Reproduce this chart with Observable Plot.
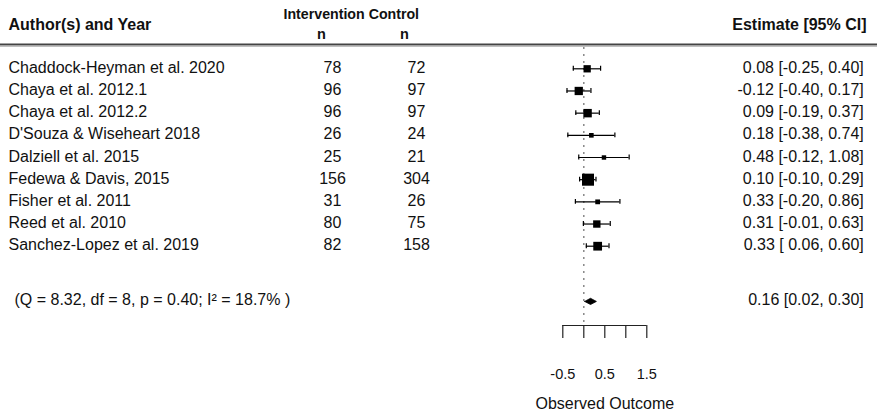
<!DOCTYPE html>
<html>
<head>
<meta charset="utf-8">
<script src="https://cdn.jsdelivr.net/npm/d3@7"></script>
<script src="https://cdn.jsdelivr.net/npm/@observablehq/plot@0.6"></script>
<style>
  html, body { margin: 0; padding: 0; background: #fff; }
</style>
</head>
<body>
<div id="chart"></div>
<script>
// ---- Data ----
const studies = [
  "Chaddock-Heyman et al. 2020",
  "Chaya et al. 2012.1",
  "Chaya et al. 2012.2",
  "D'Souza & Wiseheart 2018",
  "Dalziell et al. 2015",
  "Fedewa & Davis, 2015",
  "Fisher et al. 2011",
  "Reed et al. 2010",
  "Sanchez-Lopez et al. 2019"
];
const nIntervention = [78, 96, 96, 26, 25, 156, 31, 80, 82];
const nControl = [72, 97, 97, 24, 21, 304, 26, 75, 158];
const estimates = [0.08, -0.12, 0.09, 0.18, 0.48, 0.10, 0.33, 0.31, 0.33];
const ciLower = [-0.25, -0.40, -0.19, -0.38, -0.12, -0.10, -0.20, -0.01, 0.06];
const ciUpper = [0.40, 0.17, 0.37, 0.74, 1.08, 0.29, 0.86, 0.63, 0.60];
const weights = [11.0, 13.5, 13.9, 4.2, 3.7, 23.1, 4.6, 11.2, 14.7]; // % (estimated from square sizes)
const summaryEstimate = [0.16];
const summaryLower = [0.02];
const summaryUpper = [0.30];
const heterogeneityText = "(Q = 8.32, df = 8, p = 0.40; I\u00B2 = 18.7% )";
const tickValues = [-0.5, 0, 0.5, 1, 1.5];
const tickLabels = ["-0.5", "", "0.5", "", "1.5"];
const headers = { author: "Author(s) and Year", groups: "Intervention Control", n: "n", estimate: "Estimate [95% CI]" };
const xLabel = "Observed Outcome";

// ---- Layout ----
const W = 877, H = 415;
const zeroPx = 583.3, pxPerUnit = 42;
const row1Px = 245.7, rowStep = 22.175, axisPx = 325;
const xDomain = [-zeroPx / pxPerUnit, (W - zeroPx) / pxPerUnit];
const yDomain = [1 - (axisPx - row1Px) / rowStep, 1 + row1Px / rowStep];
const headerRow = 10.98, groupRow = 11.47, nRow = 10.54, ruleRow = 10.10, zeroTop = 9.96, summaryRow = -1.49;
const font = "'Liberation Sans', Arial, Helvetica, sans-serif";

const fmt = v => v.toFixed(2);
const k = studies.length;
const rows = studies.map((s, i) => ({
  study: s,
  nI: nIntervention[i],
  nC: nControl[i],
  est: estimates[i],
  lb: ciLower[i],
  ub: ciUpper[i],
  w: weights[i],
  row: k - i,
  label: `${fmt(estimates[i])} [${fmt(ciLower[i]).padStart(5, " ")}, ${fmt(ciUpper[i])}]`
}));
const summary = summaryEstimate.map((e, i) => ({
  est: e, lb: summaryLower[i], ub: summaryUpper[i], row: summaryRow,
  label: `${fmt(e)} [${fmt(summaryLower[i])}, ${fmt(summaryUpper[i])}]`
}));
const dh = 0.14;
const diamond = summary.flatMap(s => [
  {x: s.lb, y: s.row}, {x: s.est, y: s.row + dh}, {x: s.ub, y: s.row}, {x: s.est, y: s.row - dh}, {x: s.lb, y: s.row}
]);
const wMin = d3.min(weights), wMax = d3.max(weights);

const chart = Plot.plot({
  width: W,
  height: H,
  marginLeft: 0,
  marginRight: 0,
  marginTop: 0,
  marginBottom: H - axisPx,
  style: { fontFamily: font, fontSize: "16px", color: "#111", background: "#fff" },
  x: { domain: xDomain },
  y: { domain: yDomain, axis: null },
  r: { type: "linear", domain: [wMin, wMax], range: [2.5, 6.8] },
  marks: [
    // header rule (double)
    Plot.ruleY([ruleRow], { stroke: "#444", strokeWidth: 2 }),
    Plot.ruleY([ruleRow], { stroke: "#aaa", strokeWidth: 1.2, dy: 1.8 }),
    // zero reference line
    Plot.ruleX([0], { y1: zeroTop, y2: yDomain[0], stroke: "#808080", strokeWidth: 1.4, strokeDasharray: "2,5" }),
    // CIs
    Plot.ruleY(rows, { y: "row", x1: "lb", x2: "ub", stroke: "#000", strokeWidth: 1.2 }),
    Plot.ruleX(rows, { x: "lb", y1: d => d.row - 0.11, y2: d => d.row + 0.11, stroke: "#000", strokeWidth: 1.2 }),
    Plot.ruleX(rows, { x: "ub", y1: d => d.row - 0.11, y2: d => d.row + 0.11, stroke: "#000", strokeWidth: 1.2 }),
    Plot.dot(rows, { x: "est", y: "row", r: "w", symbol: "square", fill: "#000", stroke: null }),
    // summary diamond
    Plot.line(diamond, { x: "x", y: "y", fill: "#000", stroke: "#000", strokeWidth: 0.8 }),
    // axis
    Plot.ruleY([yDomain[0]], { x1: tickValues[0], x2: tickValues[tickValues.length - 1], stroke: "#222", strokeWidth: 1.2 }),
    Plot.axisX({
      ticks: tickValues,
      tickFormat: d => tickLabels[tickValues.indexOf(d)],
      tickSize: 13,
      tickPadding: 30,
      fontSize: 14.5,
      stroke: "#222",
      strokeWidth: 1.2,
      label: null
    }),
    Plot.text([xLabel], { x: (tickValues[0] + tickValues[tickValues.length - 1]) / 2, frameAnchor: "bottom", dy: 83, fontSize: 16 }),
    // headers
    Plot.text([headers.author], { y: () => headerRow, frameAnchor: "left", dx: 8, textAnchor: "start", fontWeight: "bold", fontSize: 16 }),
    Plot.text([headers.estimate], { y: () => headerRow, frameAnchor: "right", dx: -11, textAnchor: "end", fontWeight: "bold", fontSize: 16 }),
    Plot.text([headers.groups], { y: () => groupRow, frameAnchor: "left", dx: 283, textAnchor: "start", fontWeight: "bold", fontSize: 14.2 }),
    Plot.text([headers.n], { y: () => nRow, frameAnchor: "left", dx: 321, textAnchor: "middle", fontWeight: "bold", fontSize: 14.5 }),
    Plot.text([headers.n], { y: () => nRow, frameAnchor: "left", dx: 404, textAnchor: "middle", fontWeight: "bold", fontSize: 14.5 }),
    // study columns
    Plot.text(rows, { y: "row", text: "study", frameAnchor: "left", dx: 8, textAnchor: "start", fontSize: 16, dy: -1 }),
    Plot.text(rows, { y: "row", text: "nI", frameAnchor: "left", dx: 332, textAnchor: "middle", fontSize: 16, dy: -1 }),
    Plot.text(rows, { y: "row", text: "nC", frameAnchor: "left", dx: 416, textAnchor: "middle", fontSize: 16, dy: -1 }),
    Plot.text(rows, { y: "row", text: "label", frameAnchor: "right", dx: -13.7, textAnchor: "end", fontSize: 16, dy: -1, style: "white-space: pre" }),
    // summary row
    Plot.text([heterogeneityText], { y: () => summaryRow, frameAnchor: "left", dx: 14, textAnchor: "start", fontSize: 16, dy: -2 }),
    Plot.text(summary, { y: "row", text: "label", frameAnchor: "right", dx: -13.7, textAnchor: "end", fontSize: 16, dy: -2 })
  ]
});
document.getElementById("chart").appendChild(chart);
</script>
</body>
</html>
